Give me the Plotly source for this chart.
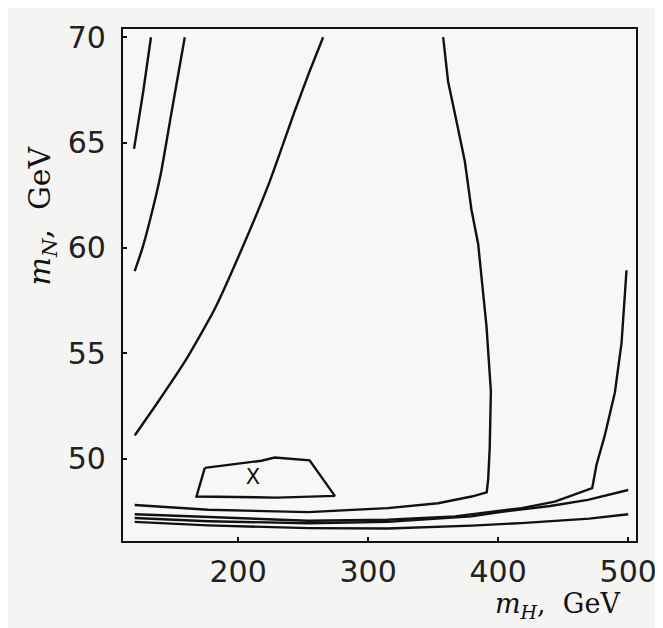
import plotly.graph_objects as go

# ---- data ----
a_x = [133, 127, 120]
a_y = [70.0, 67.4, 64.7]

b_x = [159, 149, 140.5, 133, 126.5, 120.5]
b_y = [70.0, 66.5, 63.5, 61.5, 60.0, 58.9]

c_x = [265.4, 254.5, 243.6, 224, 202.5, 182, 159, 138.5, 120.5]
c_y = [70.0, 68.3, 66.5, 63.1, 59.9, 57.1, 54.6, 52.7, 51.1]

d_x = [357.7, 361.5, 368, 374.4, 379.5, 384.6, 391, 394.4, 393.5, 392.3, 391.2, 379.5, 353.8, 330.8, 315, 254, 177, 120.5]
d_y = [70.0, 67.9, 66.0, 64.1, 61.8, 60.2, 56.3, 53.2, 50.5, 49.0, 48.4, 48.2, 47.88, 47.73, 47.65, 47.46, 47.57, 47.8]

e_x = [498.7, 494.9, 489.8, 482, 475.6, 472.3, 443.6, 418, 366.7, 315, 254, 177, 120.5]
e_y = [58.94, 55.5, 53.15, 51.1, 49.7, 48.6, 47.96, 47.65, 47.26, 47.1, 47.05, 47.22, 47.36]

f_x = [500, 469, 440, 400, 379.5, 350, 315, 254, 177, 120.5]
f_y = [48.51, 48.04, 47.75, 47.45, 47.26, 47.15, 47.0, 46.93, 47.03, 47.18]

g_x = [500, 470, 417.7, 380, 315, 254, 177, 120.5]
g_y = [47.36, 47.15, 46.94, 46.82, 46.68, 46.7, 46.83, 47.0]

box_x = [174.4, 218, 228.2, 255, 274.4, 230, 168, 174.4]
box_y = [49.56, 49.9, 50.05, 49.92, 48.23, 48.15, 48.2, 49.56]

mark_x = [211.5]
mark_y = [49.06]
mark_text = ["X"]

x_ticks = [200, 300, 400, 500]
y_ticks = [50, 55, 60, 65, 70]

# ---- figure ----
fig = go.Figure()
line = dict(color="#111111", width=2.4)
for xs, ys in [(a_x, a_y), (b_x, b_y), (c_x, c_y)]:
    fig.add_trace(go.Scatter(x=xs, y=ys, mode="lines", line=dict(line, shape="spline", smoothing=0.6),
                             hoverinfo="skip", showlegend=False))
for xs, ys in [(d_x, d_y), (e_x, e_y), (f_x, f_y), (g_x, g_y), (box_x, box_y)]:
    fig.add_trace(go.Scatter(x=xs, y=ys, mode="lines", line=line,
                             hoverinfo="skip", showlegend=False))
fig.add_trace(go.Scatter(x=mark_x, y=mark_y, mode="text", text=mark_text,
                         textfont=dict(family="DejaVu Sans", size=21, color="#111111"),
                         hoverinfo="skip", showlegend=False))

axis_common = dict(showgrid=False, zeroline=False, showline=True, linecolor="#111111",
                   linewidth=2.2, mirror=True, ticks="inside", ticklen=4, tickwidth=1.5,
                   tickcolor="#111111",
                   tickfont=dict(family="DejaVu Sans", size=30, color="#222222"))

fig.update_layout(
    width=663, height=628,
    margin=dict(l=115, r=35, t=17, b=95),
    paper_bgcolor="#f4f4f2", plot_bgcolor="#f7f7f5",
    xaxis=dict(axis_common, range=[111.5, 506], tickvals=x_ticks, ticklabelstandoff=3),
    yaxis=dict(axis_common, range=[46.09, 70.39], tickvals=y_ticks, ticklabelstandoff=9),
    annotations=[
        dict(text="<i>m</i><sub><i>H</i></sub>,  GeV", xref="paper", yref="paper",
             x=(549 - 115) / 513, y=-(598 - 533) / 516, xanchor="center", yanchor="middle",
             showarrow=False, font=dict(family="DejaVu Serif", size=27, color="#111111")),
        dict(text="<i>m</i><sub><i>N</i></sub>,  GeV", xref="paper", yref="paper",
             x=-(115 - 34) / 513, y=1 - (205 - 17) / 516, xanchor="center", yanchor="middle",
             textangle=-90, showarrow=False,
             font=dict(family="DejaVu Serif", size=30, color="#111111")),
    ],
)

fig.write_html("out.html")
